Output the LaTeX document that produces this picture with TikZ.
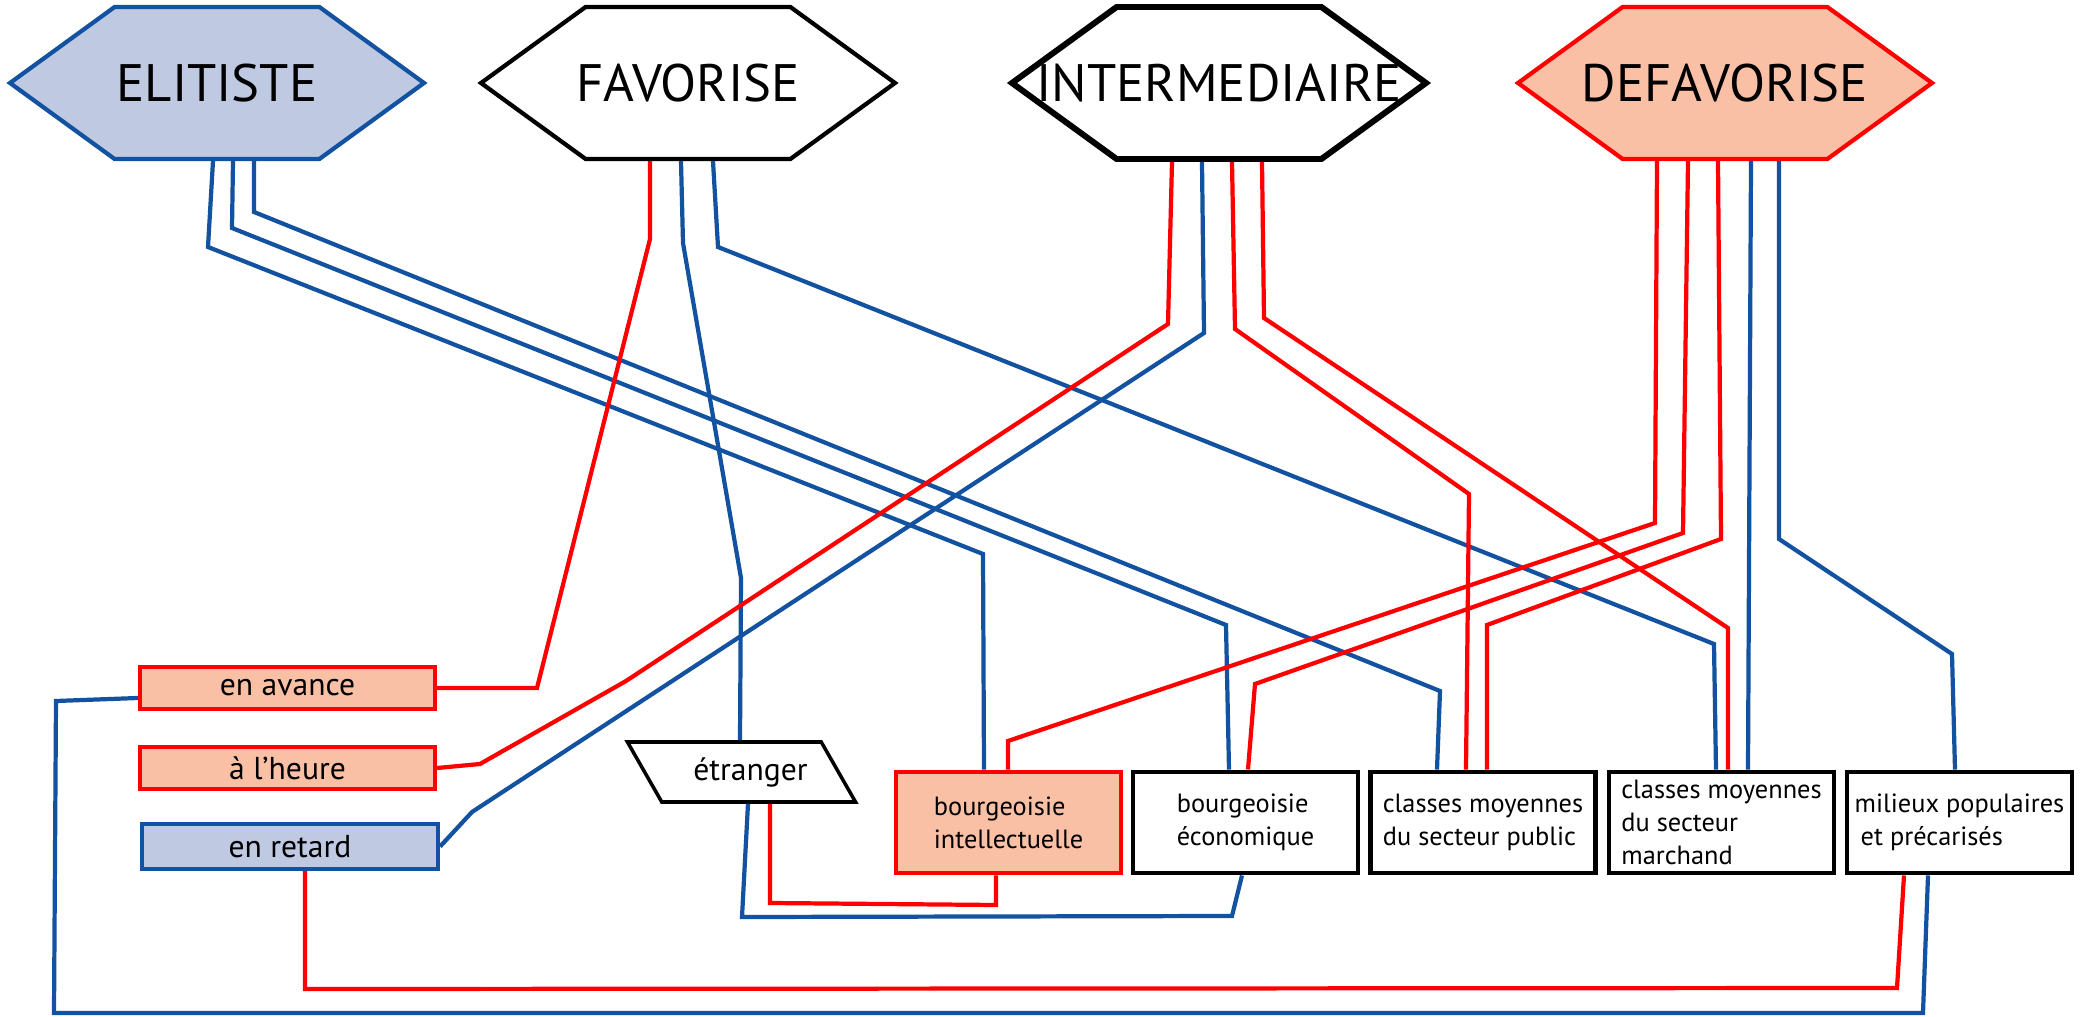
\documentclass[tikz,border=0pt]{standalone}
\usepackage{fontspec}
\setmainfont{PT Sans}
\definecolor{elblue}{RGB}{18,82,160}
\definecolor{elred}{RGB}{255,0,0}
\definecolor{salmon}{RGB}{250,192,166}
\definecolor{paleblue}{RGB}{191,202,226}
\usetikzlibrary{shapes.symbols,shapes.geometric}
\newcommand{\hexlabel}[1]{\makebox[0pt]{#1}}

\begin{document}
\begin{tikzpicture}[x=1mm,y=-1mm,
  hexa/.style={shape=signal,signal to=west and east,signal pointer angle=72,draw,line width=1.2pt,
    minimum width=41.4mm,minimum height=15.2mm,inner sep=0pt,font=\fontsize{15}{18}\selectfont},
  timebox/.style={draw,line width=1.2pt,minimum width=29.5mm,minimum height=4.2mm,inner sep=0pt,
    font=\fontsize{9}{11}\selectfont},
  classbox/.style={draw,line width=1.4pt,minimum width=22.5mm,minimum height=10.1mm,inner sep=0pt,
    align=left,font=\fontsize{7.5}{9.4}\selectfont},
  bl/.style={elblue,line width=1.2pt},
  rd/.style={elred,line width=1.2pt}]
  \useasboundingbox (0,0) rectangle (208.7,101.7);
  % categories
  \node[hexa,draw=elblue,fill=paleblue] (elit) at (21.7,8.3) {\hexlabel{ELITISTE}};
  \node[hexa,draw=black,fill=white] (fav) at (68.8,8.3) {\hexlabel{FAVORISE}};
  \node[hexa,draw=black,fill=white,line width=1.7pt] (inter) at (121.9,8.3) {\hexlabel{INTERMEDIAIRE}};
  \node[hexa,draw=elred,fill=salmon] (defav) at (172.5,8.3) {\hexlabel{DEFAVORISE}};
  % retard scolaire
  \node[timebox,draw=elred,fill=salmon] (avance) at (28.75,68.8) {en avance};
  \node[timebox,draw=elred,fill=salmon] (heure) at (28.75,76.8) {à l'heure};
  \node[timebox,draw=elblue,fill=paleblue,minimum width=29.6mm,minimum height=4.5mm] (retard) at (29.0,84.65) {en retard};
  \node[trapezium,trapezium left angle=134,trapezium right angle=46,trapezium stretches=true,draw,line width=1pt,
    minimum width=22.9mm,minimum height=6mm,inner sep=0pt,font=\fontsize{9}{11}\selectfont] (etr) at (74.15,77.2) {\hspace*{1.8mm}étranger};
  % origine sociale
  \node[classbox,draw=elred,fill=salmon] (bint) at (100.85,82.25) {bourgeoisie\\intellectuelle};
  \node[classbox] (beco) at (124.55,82.25) {bourgeoisie\\économique};
  \node[classbox] (cmpub) at (148.3,82.25) {classes moyennes\\du secteur public};
  \node[classbox] (cmmar) at (172.15,82.25) {classes moyennes\\du secteur\\marchand};
  \node[classbox] (milpop) at (195.95,82.25) {milieux populaires\\\hspace*{0.6mm}et précarisés};
  % ELITISTE
  \draw[bl] (elit.south -| 21.3,0) -- (20.8,24.7) -- (98.3,55.4) -- (bint.north -| 98.4,0);
  \draw[bl] (elit.south -| 23.3,0) -- (23.2,22.8) -- (122.6,62.5) -- (beco.north -| 122.9,0);
  \draw[bl] (elit.south -| 25.4,0) -- (25.4,21.2) -- (144.0,69.1) -- (cmpub.north -| 143.7,0);
  % FAVORISE
  \draw[rd] (fav.south -| 65.0,0) -- (65.0,23.9) -- (53.7,68.8) -- (avance.east);
  \draw[bl] (fav.south -| 68.1,0) -- (68.3,24.3) -- (74.1,57.8) -- (etr.north -| 74.0,0);
  \draw[bl] (fav.south -| 71.3,0) -- (71.8,24.7) -- (171.4,64.4) -- (cmmar.north -| 171.6,0);
  % INTERMEDIAIRE
  \draw[rd] (inter.south -| 117.2,0) -- (116.8,32.4) -- (62.6,68.1) -- (48.0,76.4) -- (heure.east);
  \draw[bl] (inter.south -| 120.2,0) -- (120.4,33.3) -- (47.2,81.2) -- (retard.east);
  \draw[rd] (inter.south -| 123.2,0) -- (123.5,32.9) -- (146.9,49.4) -- (cmpub.north -| 146.6,0);
  \draw[rd] (inter.south -| 126.2,0) -- (126.4,31.8) -- (172.8,62.8) -- (cmmar.north -| 172.8,0);
  % DEFAVORISE
  \draw[rd] (defav.south -| 165.7,0) -- (165.5,52.3) -- (100.8,74.1) -- (bint.north -| 100.8,0);
  \draw[rd] (defav.south -| 168.8,0) -- (168.3,53.3) -- (125.5,68.4) -- (beco.north -| 124.8,0);
  \draw[rd] (defav.south -| 171.8,0) -- (172.1,53.9) -- (148.7,62.5) -- (cmpub.north -| 148.7,0);
  \draw[bl] (defav.south -| 175.1,0) -- (cmmar.north -| 174.8,0);
  \draw[bl] (defav.south -| 177.9,0) -- (177.9,53.9) -- (195.2,65.4) -- (milpop.north -| 195.5,0);
  % liaisons du bas
  \draw[bl] (etr.south -| 74.8,0) -- (74.2,91.7) -- (123.2,91.6) -- (beco.south -| 124.2,0);
  \draw[rd] (etr.south -| 77.0,0) -- (77.0,90.3) -- (99.6,90.5) -- (bint.south -| 99.6,0);
  \draw[rd] (retard.south -| 30.5,0) -- (30.5,98.9) -- (189.7,98.8) -- (milpop.south -| 190.4,0);
  \draw[bl] (avance.west |- 0,69.8) -- (5.6,70.1) -- (5.4,101.3) -- (192.3,101.3) -- (milpop.south -| 192.8,0);
\end{tikzpicture}
\end{document}
